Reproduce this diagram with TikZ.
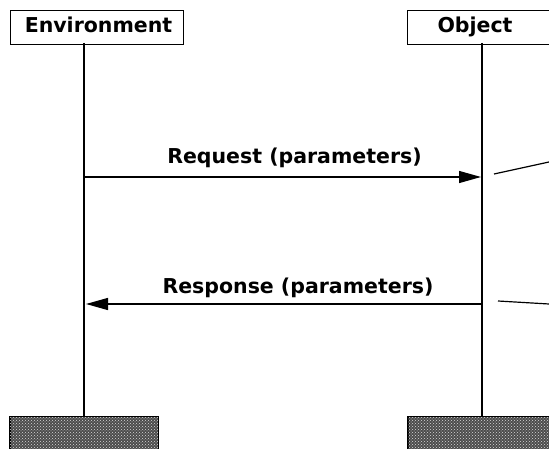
\documentclass[tikz,border=0pt]{standalone}
\usepackage{fontspec}
\setmainfont{DejaVu Sans}
\usetikzlibrary{arrows.meta,patterns}
\tikzset{
  lbl/.style={font=\bfseries\fontsize{20.5}{24}\selectfont, inner sep=0pt},
  headbox/.style={draw, line width=1.2pt, fill=white, minimum height=34pt, inner sep=0pt},
  footbox/.style={draw, line width=1pt, fill=black!70, minimum height=40pt, inner sep=0pt},
  dither/.style={pattern=crosshatch dots, pattern color=white!85!black},
  lifeline/.style={line width=2pt},
  msg/.style={line width=1.3pt, -{Triangle[length=22pt,width=12pt]}},
  tail/.style={line width=1.2pt}
}
\begin{document}
\begin{tikzpicture}[x=1pt,y=-1pt]
  \useasboundingbox (0,0) rectangle (549,449);
  % heads of the two lifelines
  \node[headbox, minimum width=173pt, anchor=north west] (envbox) at (10,10) {};
  \node[lbl, anchor=base] (envtxt) at (98.5,33) {Environment};
  \node[headbox, minimum width=160pt, anchor=north west] (objbox) at (407,10) {};
  \node[lbl, anchor=base] (objtxt) at (475,33) {Object};
  % feet of the lifelines
  \node[footbox, minimum width=148pt, anchor=north] (envfoot) at (84,416) {};
  \fill[dither] (envfoot.north west) rectangle (envfoot.south east);
  \node[footbox, minimum width=148pt, anchor=north] (objfoot) at (482,416) {};
  \fill[dither] (objfoot.north west) rectangle (objfoot.south east);
  \draw[line width=1pt] (envfoot.north west) rectangle (envfoot.south east);
  \draw[line width=1pt] (objfoot.north west) rectangle (objfoot.south east);
  % lifelines
  \coordinate (envtop) at (84,43);
  \coordinate (objtop) at (482,43);
  \draw[lifeline] (envtop) -- (envfoot.north);
  \draw[lifeline] (objtop) -- (objfoot.north);
  % messages
  \coordinate (reqA) at (84,177);
  \coordinate (reqB) at (481,177);
  \coordinate (resA) at (482,304);
  \coordinate (resB) at (86,304);
  \draw[msg] (reqA) -- (reqB);
  \draw[msg] (resA) -- (resB);
  \node[lbl, anchor=base] (reqtxt) at (294.5,164) {Request (parameters)};
  \node[lbl, anchor=base] (restxt) at (298,293) {Response (parameters)};
  % continuations to the right
  \coordinate (t1a) at (494,174);
  \coordinate (t1b) at (549,162);
  \coordinate (t2a) at (498,301);
  \coordinate (t2b) at (549,304);
  \draw[tail] (t1a) -- (t1b);
  \draw[tail] (t2a) -- (t2b);
\end{tikzpicture}
\end{document}
